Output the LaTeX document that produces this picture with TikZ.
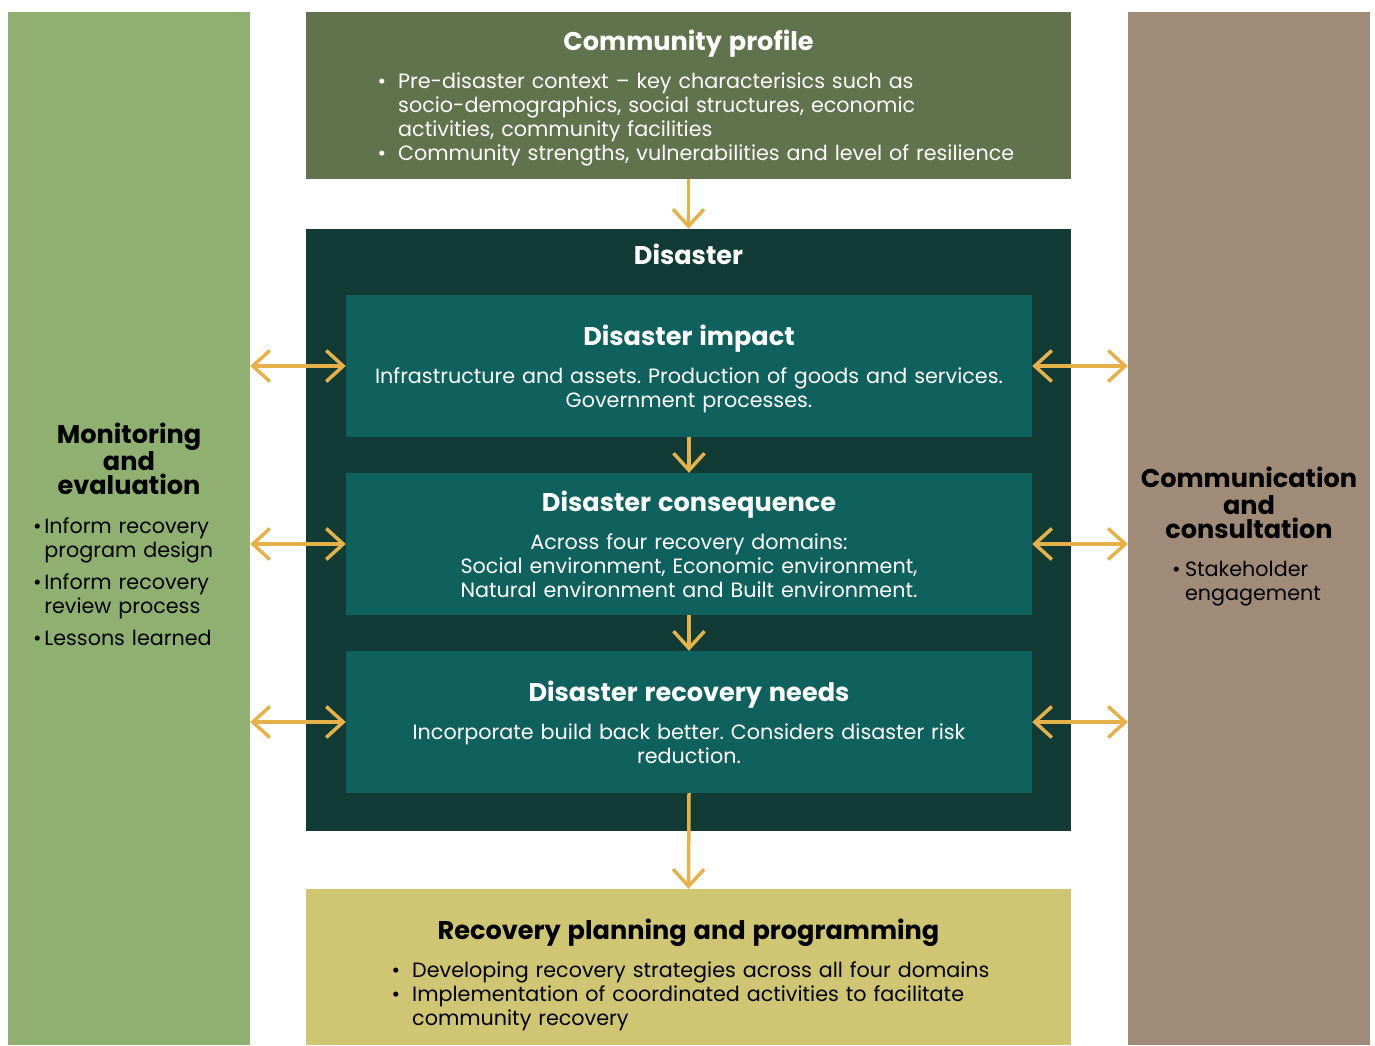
\documentclass[tikz,border=0pt]{standalone}
\usepackage{fontspec}
\setmainfont{Poppins}
\usetikzlibrary{arrows.meta,positioning}

\definecolor{monitorgreen}{HTML}{8FB070}
\definecolor{profilegreen}{HTML}{61734C}
\definecolor{disasterdark}{HTML}{123B35}
\definecolor{innerteal}{HTML}{0F615E}
\definecolor{planyellow}{HTML}{CEC673}
\definecolor{commbrown}{HTML}{9F8B78}
\definecolor{arrowgold}{HTML}{E5B24A}

\newcommand\bitem[2][1em]{\par\hangindent=#1\hangafter=1\noindent\makebox[#1][l]{\textbullet}#2}
\newcommand\blist[2]{\parbox{#1}{\raggedright #2}}
\newcommand\titlefont{\fontsize{25.6}{27}\selectfont\bfseries}
\newcommand\boxtitle[1]{{\titlefont #1}\par\vspace{14pt}}
% pushes the text of a box down by half the given length
\newcommand\textdown[1]{\par\kern-#1}

\begin{document}
\begin{tikzpicture}[x=1pt,y=-1pt,
    box/.style={rectangle,inner sep=0pt,align=center,text width=#1,
      font=\fontsize{20.7}{24}\selectfont\frenchspacing},
    box/.default=740pt,
    panel/.style={box=242pt,minimum width=242pt,minimum height=1033pt,text=black},
    wide/.style={minimum width=765pt},
    inner/.style={box=680pt,fill=innerteal,text=white,minimum width=686pt,minimum height=142pt},
    link/.style={draw=arrowgold,line width=3.5pt,-{Straight Barb[length=17pt,width=31pt]}},
    both/.style={link,{Straight Barb[length=17pt,width=31pt]}-{Straight Barb[length=17pt,width=31pt]}}]
  \useasboundingbox (0,0) rectangle (1375,1045);

  % side panels
  \node[panel,fill=monitorgreen] (monitor) at (129,528.5) {%
    {\titlefont Monitoring\\and\\evaluation}\par\vspace{22pt}
    \blist{192pt}{\setlength{\parskip}{8pt}%
      \bitem[0.55em]{Inform recovery\newline program design}
      \bitem[0.55em]{Inform recovery\newline review process}
      \bitem[0.55em]{Lessons learned}}\textdown{12pt}};
  \node[panel,fill=commbrown] (comm) at (1249,528.5) {%
    {\titlefont Communication\\and\\consultation}\par\vspace{22pt}
    \blist{154pt}{\bitem[0.63em]{Stakeholder\newline engagement}}\textdown{16pt}};

  % centre column
  \node[box,wide,minimum height=167pt,fill=profilegreen,text=white] (profile) at (688.5,95.5) {%
    \boxtitle{Community profile}
    \hspace*{18pt}\blist{640pt}{%
      \bitem{Pre-disaster context -- key characterisics such as\newline
        socio-demographics, social structures, economic\newline
        activities, community facilities}
      \bitem{Community strengths, vulnerabilities and level of resilience}}\textdown{5pt}};
  \node[box,wide,minimum height=602pt,fill=disasterdark] (disaster) at (688.5,530) {};
  \node[text=white,font=\titlefont,below=12pt of disaster.north] (distitle) {Disaster};

  \node[inner] (impact) at (689,366) {%
    \boxtitle{Disaster impact}
    Infrastructure and assets. Production of goods and services.\\
    Government processes.\textdown{6pt}};
  \node[inner] (consequence) at (689,544) {%
    \boxtitle{Disaster consequence}
    Across four recovery domains:\\
    Social environment, Economic environment,\\
    Natural environment and Built environment.};
  \node[inner] (needs) at (689,722) {%
    \boxtitle{Disaster recovery needs}
    Incorporate build back better. Considers disaster risk\\
    reduction.};

  \node[box,wide,minimum height=156pt,fill=planyellow,text=black] (planning) at (688.5,967) {%
    \boxtitle{Recovery planning and programming}
    \hspace*{10pt}\blist{604pt}{%
      \bitem{Developing recovery strategies across all four domains}
      \bitem{Implementation of coordinated activities to facilitate\newline
        community recovery}}\textdown{16pt}};

  % connectors
  \draw[link] (profile.south) -- (disaster.north);
  \draw[link] (impact.south) -- (consequence.north);
  \draw[link] (consequence.south) -- (needs.north);
  \draw[link] (needs.south) -- (planning.north);
  \foreach \n in {impact,consequence,needs} {
    \draw[both] (monitor.east |- \n.west) -- (\n.west);
    \draw[both] (\n.east) -- (comm.west |- \n.east);
  }
\end{tikzpicture}
\end{document}
